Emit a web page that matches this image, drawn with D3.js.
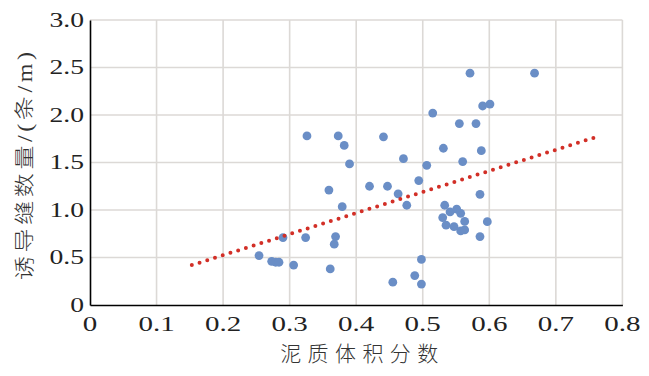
<!DOCTYPE html>
<html>
<head>
<meta charset="utf-8">
<script src="https://cdn.jsdelivr.net/npm/d3@7"></script>
<style>
html,body{margin:0;padding:0;background:#fff;}
svg{display:block;}
</style>
</head>
<body>
<svg id="chart" width="649" height="376"></svg>
<script>
// ---- data ----
const pointX = [0.254,0.273,0.279,0.284,0.290,0.306,0.324,0.326,0.359,0.361,
                0.367,0.369,0.373,0.379,0.382,0.390,0.420,0.441,0.447,0.455,
                0.463,0.471,0.476,0.488,0.494,0.498,0.498,0.506,0.515,0.531,
                0.533,0.530,0.535,0.541,0.551,0.557,0.563,0.547,0.557,0.563,
                0.555,0.560,0.571,0.580,0.586,0.586,0.588,0.590,0.601,0.597,
                0.668];
const pointY = [0.52,0.46,0.45,0.45,0.71,0.42,0.71,1.78,1.21,0.38,
                0.64,0.72,1.78,1.035,1.68,1.485,1.25,1.77,1.25,0.24,
                1.17,1.54,1.05,0.31,1.31,0.48,0.22,1.47,2.02,1.65,
                1.05,0.92,0.84,0.98,1.01,0.965,0.88,0.825,0.78,0.79,
                1.91,1.51,2.44,1.91,1.165,0.72,1.625,2.095,2.115,0.877,
                2.44];
const trendX = [0.153, 0.765];
const trendY = [0.42, 1.778];
const xTicks = [0,0.1,0.2,0.3,0.4,0.5,0.6,0.7,0.8];
const xTickLabels = ["0","0.1","0.2","0.3","0.4","0.5","0.6","0.7","0.8"];
const yTicks = [0,0.5,1.0,1.5,2.0,2.5,3.0];
const yTickLabels = ["0","0.5","1.0","1.5","2.0","2.5","3.0"];
const xTitle = "泥质体积分数";
const yTitle = "诱导缝数量/(条/m)";

// ---- drawing ----
const svg = d3.select("#chart");
const x = d3.scaleLinear().domain([0,0.8]).range([90,622.4]);
const y = d3.scaleLinear().domain([0,3]).range([305,20]);

const grid = svg.append("g");
grid.selectAll(".gx").data(xTicks.slice(1)).enter().append("line")
  .attr("x1",d=>x(d)).attr("x2",d=>x(d)).attr("y1",y(0)).attr("y2",y(3))
  .attr("stroke","#dcd9d6").attr("stroke-width",1.6);
grid.selectAll(".gy").data(yTicks.slice(1)).enter().append("line")
  .attr("x1",x(0)).attr("x2",x(0.8)).attr("y1",d=>y(d)).attr("y2",d=>y(d))
  .attr("stroke","#dcd9d6").attr("stroke-width",1.6);

// axes
svg.append("g").attr("transform",`translate(0,${y(0)})`)
  .call(d3.axisBottom(x).tickValues([]).tickSizeOuter(0))
  .call(g=>g.select(".domain").attr("stroke","#000").attr("stroke-width",1.6));
svg.append("g").attr("transform",`translate(${x(0)},0)`)
  .call(d3.axisLeft(y).tickValues([]).tickSizeOuter(0))
  .call(g=>g.select(".domain").attr("stroke","#000").attr("stroke-width",1.6));

// points
const pts = pointX.map((v,i)=>({x:v,y:pointY[i]}));
svg.append("g").selectAll("circle").data(pts).enter().append("circle")
  .attr("cx",d=>x(d.x)).attr("cy",d=>y(d.y)).attr("r",4.4)
  .attr("fill","#6a8ec6");

// trendline
const line = d3.line().x(d=>x(d[0])).y(d=>y(d[1]));
svg.append("path").datum(trendX.map((v,i)=>[v,trendY[i]]))
  .attr("d",line).attr("fill","none").attr("stroke","#d22f27")
  .attr("stroke-width",4).attr("stroke-linecap","round")
  .attr("stroke-dasharray","0 8.1");

// tick labels
const serif = "Liberation Serif";
const stretch = 1.38;
function stretchText(sel){
  sel.each(function(){
    const len = this.getComputedTextLength();
    d3.select(this).attr("textLength",len*stretch).attr("lengthAdjust","spacingAndGlyphs");
  });
}
svg.append("g").selectAll("text").data(xTicks).enter().append("text")
  .style("font-family",serif)
  .attr("x",d=>x(d)).attr("y",331)
  .attr("text-anchor","middle").attr("font-size",21)
  .attr("fill","#222")
  .text((d,i)=>xTickLabels[i]).call(stretchText);
svg.append("g").selectAll("text").data(yTicks).enter().append("text")
  .style("font-family",serif)
  .attr("x",84).attr("y",d=>y(d)+6.5)
  .attr("text-anchor","end").attr("font-size",20)
  .attr("fill","#222")
  .text((d,i)=>yTickLabels[i]).call(stretchText);

// titles
const mixed = "'Liberation Serif', 'Noto Sans CJK SC'";
svg.append("text")
  .style("font-family",mixed)
  .attr("x",(x(0)+x(0.8))/2+3).attr("y",361)
  .attr("text-anchor","middle").attr("font-size",21)
  .attr("font-weight",300)
  .attr("fill","#333").attr("textLength",158).attr("lengthAdjust","spacing")
  .text(xTitle);
svg.append("text")
  .style("font-family",mixed)
  .attr("transform",`translate(32,166) rotate(-90) scale(1,0.85)`)
  .attr("text-anchor","middle").attr("font-size",24)
  .attr("font-weight",300)
  .attr("fill","#333").attr("textLength",228).attr("lengthAdjust","spacing")
  .text(yTitle);
</script>
</body>
</html>
